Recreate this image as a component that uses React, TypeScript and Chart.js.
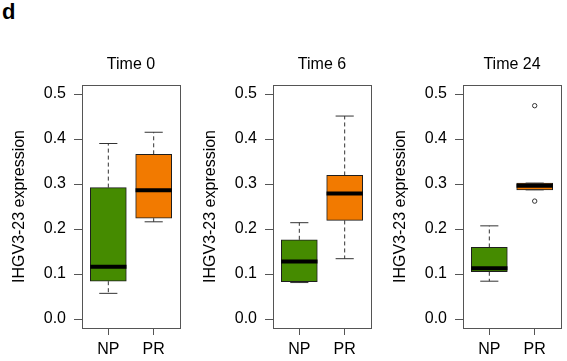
import React, { useEffect, useRef } from 'react';
import { Chart, registerables } from 'chart.js';

Chart.register(...registerables);

// ---- Data ----
const groups = ['NP', 'PR'];
const panelTitles = ['Time 0', 'Time 6', 'Time 24'];
const yAxisTitle = 'IHGV3-23 expression';
const yTicks = [0.0, 0.1, 0.2, 0.3, 0.4, 0.5];

const npMin = [0.057, 0.081, 0.084];
const npQ1 = [0.084, 0.083, 0.105];
const npMedian = [0.116, 0.128, 0.113];
const npQ3 = [0.292, 0.176, 0.159];
const npMax = [0.390, 0.214, 0.207];
const npOutliers = [[], [], []];

const prMin = [0.216, 0.134, 0.287];
const prQ1 = [0.224, 0.219, 0.287];
const prMedian = [0.286, 0.279, 0.296];
const prQ3 = [0.366, 0.319, 0.302];
const prMax = [0.415, 0.451, 0.302];
const prOutliers = [[], [], [0.474, 0.262]];

// ---- Styles ----
const FONT = "'Liberation Sans', Arial, Helvetica, sans-serif";
const boxColors = ['#458B00', '#F27A00'];
const frameColor = '#555555';
const lineColor = '#333333';

Chart.defaults.font.family = FONT;

function buildConfig(i: number): any {
  const stats = [
    { min: npMin[i], q1: npQ1[i], med: npMedian[i], q3: npQ3[i], max: npMax[i], out: npOutliers[i] },
    { min: prMin[i], q1: prQ1[i], med: prMedian[i], q3: prQ3[i], max: prMax[i], out: prOutliers[i] },
  ];
  const seg = (data: any[], extra: any) => ({
    type: 'scatter',
    showLine: true,
    data,
    pointRadius: 0,
    pointHoverRadius: 0,
    borderColor: lineColor,
    borderWidth: 1,
    ...extra,
  });
  const datasets: any[] = [];
  datasets.push({
    type: 'bar',
    data: stats.map((s, k) => ({ x: k + 1, y: [s.q1, s.q3] })),
    backgroundColor: boxColors,
    borderColor: '#1e1e1e',
    borderWidth: 1,
    borderSkipped: false,
    barThickness: 36,
    order: 4,
  });
  stats.forEach((s, k) => {
    const x = k + 1;
    datasets.push(seg([{ x, y: s.q3 }, { x, y: s.max }], { borderDash: [4, 3], order: 5 }));
    datasets.push(seg([{ x, y: s.q1 }, { x, y: s.min }], { borderDash: [4, 3], order: 5 }));
    datasets.push(seg([{ x: x - 0.2, y: s.max }, { x: x + 0.2, y: s.max }], { order: 3 }));
    datasets.push(seg([{ x: x - 0.2, y: s.min }, { x: x + 0.2, y: s.min }], { order: 3 }));
    datasets.push(seg([{ x: x - 0.4, y: s.med }, { x: x + 0.4, y: s.med }], { borderColor: '#000', borderWidth: 4, order: 1 }));
    if (s.out.length) {
      datasets.push({
        type: 'scatter',
        data: s.out.map((v: number) => ({ x, y: v })),
        pointRadius: 2.2,
        pointStyle: 'circle',
        backgroundColor: 'rgba(255,255,255,0)',
        borderColor: lineColor,
        borderWidth: 1,
        order: 0,
      });
    }
  });

  const tickFont = { family: FONT, size: 16, weight: 'normal' as const };
  return {
    type: 'bar',
    data: { datasets },
    options: {
      responsive: false,
      animation: false,
      events: [],
      layout: { padding: { left: 0, right: 6, top: 0, bottom: 0 } },
      plugins: {
        legend: { display: false },
        tooltip: { enabled: false },
        title: { display: false },
      },
      scales: {
        x: {
          type: 'linear',
          position: 'bottom',
          offset: false,
          min: 0.42,
          max: 2.58,
          afterBuildTicks: (s: any) => {
            s.ticks = groups.map((_, k) => ({ value: k + 1 }));
          },
          afterFit: (s: any) => {
            s.height = 33;
          },
          ticks: {
            callback: (v: any) => groups[Math.round(Number(v)) - 1] ?? '',
            color: '#000',
            font: tickFont,
            padding: 5,
            autoSkip: false,
            maxRotation: 0,
          },
          grid: { offset: false, drawOnChartArea: false, drawTicks: true, tickLength: 7, color: frameColor },
          border: { display: true, color: frameColor, width: 1 },
        },
        y: {
          type: 'linear',
          position: 'left',
          min: -0.02,
          max: 0.52,
          afterBuildTicks: (s: any) => {
            s.ticks = yTicks.map((v) => ({ value: v }));
          },
          afterFit: (s: any) => {
            s.width = 82;
          },
          ticks: {
            callback: (v: any) => Number(v).toFixed(1),
            color: '#000',
            font: tickFont,
            padding: 8,
          },
          grid: { drawOnChartArea: false, drawTicks: true, tickLength: 8, color: frameColor },
          border: { display: true, color: frameColor, width: 1 },
          title: {
            display: true,
            text: yAxisTitle,
            color: '#000',
            font: tickFont,
            padding: { top: 10, bottom: 0 },
          },
        },
        xTop: {
          type: 'linear',
          position: 'top',
          display: true,
          offset: false,
          ticks: { display: false },
          grid: { display: false, drawTicks: false },
          border: { display: true, color: frameColor, width: 1 },
          title: {
            display: true,
            text: panelTitles[i],
            color: '#000',
            font: tickFont,
            padding: { top: 55.4, bottom: 0 },
          },
          afterFit: (s: any) => {
            s.height = 85;
          },
        },
        yRight: {
          type: 'linear',
          position: 'right',
          display: true,
          ticks: { display: false },
          grid: { display: false, drawTicks: false },
          border: { display: true, color: frameColor, width: 1 },
          afterFit: (s: any) => {
            s.width = 0;
          },
        },
      },
    },
  };
}

function Panel({ index, left }: { index: number; left: number }) {
  const ref = useRef<HTMLCanvasElement | null>(null);
  useEffect(() => {
    if (!ref.current) return;
    const chart = new Chart(ref.current, buildConfig(index));
    return () => chart.destroy();
  }, [index]);
  return (
    <canvas
      ref={ref}
      width={186}
      height={361}
      style={{ position: 'absolute', left, top: 0, width: 186, height: 361 }}
    />
  );
}

const panelLefts = [0, 191, 381];

export default function App() {
  return (
    <div
      style={{
        position: 'fixed',
        left: 0,
        top: 0,
        width: 567,
        height: 361,
        overflow: 'hidden',
        background: '#fff',
      }}
    >
      <div
        style={{
          position: 'absolute',
          left: 2,
          top: 1,
          fontFamily: FONT,
          fontWeight: 'bold',
          fontSize: 22,
          lineHeight: '22px',
          color: '#000',
        }}
      >
        d
      </div>
      {panelLefts.map((l, k) => (
        <Panel key={k} index={k} left={l} />
      ))}
    </div>
  );
}
